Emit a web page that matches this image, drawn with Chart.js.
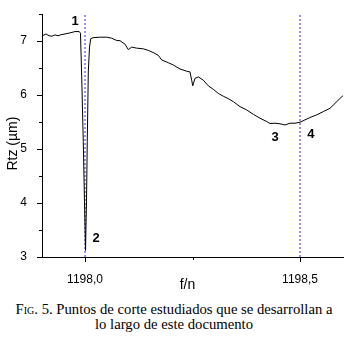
<!DOCTYPE html>
<html>
<head>
<meta charset="utf-8">
<script src="https://cdn.jsdelivr.net/npm/chart.js@4.4.1/dist/chart.umd.min.js"></script>
<style>
  html, body { margin: 0; padding: 0; background: #ffffff; }
  #wrap { position: relative; width: 348px; height: 295px; }
  #caption { width: 348px; text-align: center; font-family: "Liberation Serif", "Times New Roman", serif;
             font-size: 14.7px; line-height: 15px; color: #000; margin-top: 7px; }
  .sc { font-variant: small-caps; }
</style>
</head>
<body>
<div id="wrap"><canvas id="c"></canvas></div>
<div id="caption"><span class="sc">Fig.</span> 5. Puntos de corte estudiados que se desarrollan a<br>lo largo de este documento</div>
<script>
// ---- data ----
const fValues = [1197.9023,1197.9093,1197.9163,1197.9233,1197.9302,1197.9372,1197.9442,1197.9535,1197.9651,1197.9767,
  1197.9867,1197.9895,1197.9923,1197.9960,1197.9988,1198.0012,1198.0035,1198.0053,1198.0077,1198.0105,
  1198.0133,1198.0186,1198.0349,1198.0505,1198.0621,1198.0737,1198.0814,1198.0930,1198.1007,1198.1086,
  1198.1202,1198.1356,1198.1472,1198.1588,1198.1705,1198.1784,1198.1937,1198.2053,1198.2209,1198.2365,
  1198.2442,1198.2481,1198.2505,1198.2558,1198.2635,1198.2751,1198.2867,1198.2984,1198.3100,1198.3216,
  1198.3333,1198.3449,1198.3605,1198.3760,1198.3914,1198.4070,1198.4226,1198.4302,1198.4419,1198.4535,
  1198.4651,1198.4767,1198.4884,1198.5000,1198.5116,1198.5233,1198.5388,1198.5542,1198.5698,1198.5814,
  1198.5930,1198.6023];
const rtzValues = [7.105,7.134,7.101,7.092,7.116,7.101,7.119,7.134,7.153,7.178,
  7.178,7.147,6.338,5.143,4.04,3.12,4.04,5.143,6.43,6.89,
  7.046,7.064,7.074,7.074,7.055,7.013,7.009,6.945,6.844,6.89,
  6.871,6.858,6.829,6.789,6.737,6.651,6.601,6.559,6.485,6.443,
  6.430,6.278,6.173,6.311,6.338,6.278,6.173,6.108,6.031,5.980,
  5.934,5.879,5.787,5.726,5.645,5.572,5.511,5.474,5.480,5.469,
  5.447,5.480,5.480,5.498,5.542,5.585,5.634,5.695,5.756,5.847,
  5.939,6.007];
const markerLines = [1198.0, 1198.5];
const xMajorTicks = [1198.0, 1198.5];
const xMinorTicks = [1198.25];
const yMajorTicks = [3, 4, 5, 6, 7];
const yMinorTicks = [3.5, 4.5, 5.5, 6.5, 7.5];
const pointLabels = ['1', '2', '3', '4'];
const pointLabelX = [1197.977, 1198.026, 1198.442, 1198.525];
const pointLabelY = [7.37, 3.34, 5.217, 5.267];
const yTitle = 'Rtz (µm)';
const xTitle = 'f/n';
// --------------------------------------

const FONT = '"Liberation Sans", Arial, sans-serif';
const curve = fValues.map((f, i) => ({ x: f, y: rtzValues[i] }));
const markerSets = markerLines.map(v => ({
  data: [{ x: v, y: 3 }, { x: v, y: 7.5 }],
  borderColor: '#2b2bd6', borderWidth: 1, borderDash: [2, 2],
  pointRadius: 0, fill: false, tension: 0
}));

const tickPlugin = {
  id: 'ticksAndLabels',
  afterDraw(chart) {
    const ctx = chart.ctx;
    const xs = chart.scales.x, ys = chart.scales.y;
    const ax = chart.chartArea;
    ctx.save();
    ctx.strokeStyle = '#000';
    ctx.lineWidth = 1;
    ctx.beginPath();
    xMajorTicks.forEach(v => { const p = Math.round(xs.getPixelForValue(v)) + 0.5; ctx.moveTo(p, ax.bottom); ctx.lineTo(p, ax.bottom + 5); });
    xMinorTicks.forEach(v => { const p = Math.round(xs.getPixelForValue(v)) + 0.5; ctx.moveTo(p, ax.bottom); ctx.lineTo(p, ax.bottom + 3); });
    yMajorTicks.forEach(v => { const p = Math.round(ys.getPixelForValue(v)) + 0.5; ctx.moveTo(ax.left, p); ctx.lineTo(ax.left - 5, p); });
    yMinorTicks.forEach(v => { const p = Math.round(ys.getPixelForValue(v)) + 0.5; ctx.moveTo(ax.left, p); ctx.lineTo(ax.left - 3, p); });
    ctx.stroke();
    ctx.fillStyle = '#000';
    ctx.font = 'bold 13px ' + FONT;
    ctx.textAlign = 'center';
    ctx.textBaseline = 'middle';
    pointLabels.forEach((t, i) => {
      ctx.fillText(t, xs.getPixelForValue(pointLabelX[i]), ys.getPixelForValue(pointLabelY[i]));
    });
    // axis titles
    ctx.font = '14px ' + FONT;
    ctx.fillText(xTitle, (ax.left + ax.right) / 2 - 5, ax.bottom + 28);
    ctx.translate(13, (ax.top + ax.bottom) / 2 + 8);
    ctx.rotate(-Math.PI / 2);
    ctx.fillText(yTitle, 0, 0);
    ctx.restore();
  }
};

new Chart(document.getElementById('c'), {
  type: 'line',
  data: {
    datasets: [{
      data: curve, borderColor: '#000', borderWidth: 1, pointRadius: 0, fill: false, tension: 0
    }, ...markerSets]
  },
  options: {
    responsive: true, maintainAspectRatio: false, animation: false,
    layout: { padding: { top: 12, right: 5, left: 0, bottom: 0 } },
    plugins: { legend: { display: false }, tooltip: { enabled: false } },
    scales: {
      x: {
        type: 'linear', min: 1197.9, max: 1198.6,
        afterBuildTicks: s => { s.ticks = xMajorTicks.map(v => ({ value: v })); },
        afterFit: s => { s.height = 38; },
        grid: { display: false },
        border: { display: true, color: '#000', width: 1 },
        ticks: { color: '#000', font: { family: FONT, size: 12 }, padding: 7, maxRotation: 0,
                 callback: v => v.toFixed(1).replace('.', ',') }
      },
      y: {
        type: 'linear', min: 3, max: 7.5,
        afterBuildTicks: s => { s.ticks = yMajorTicks.map(v => ({ value: v })); },
        afterFit: s => { s.width = 42; },
        grid: { display: false },
        border: { display: true, color: '#000', width: 1 },
        ticks: { color: '#000', font: { family: FONT, size: 12 }, padding: 7,
                 callback: v => String(v) }
      }
    }
  },
  plugins: [tickPlugin]
});
</script>
</body>
</html>
